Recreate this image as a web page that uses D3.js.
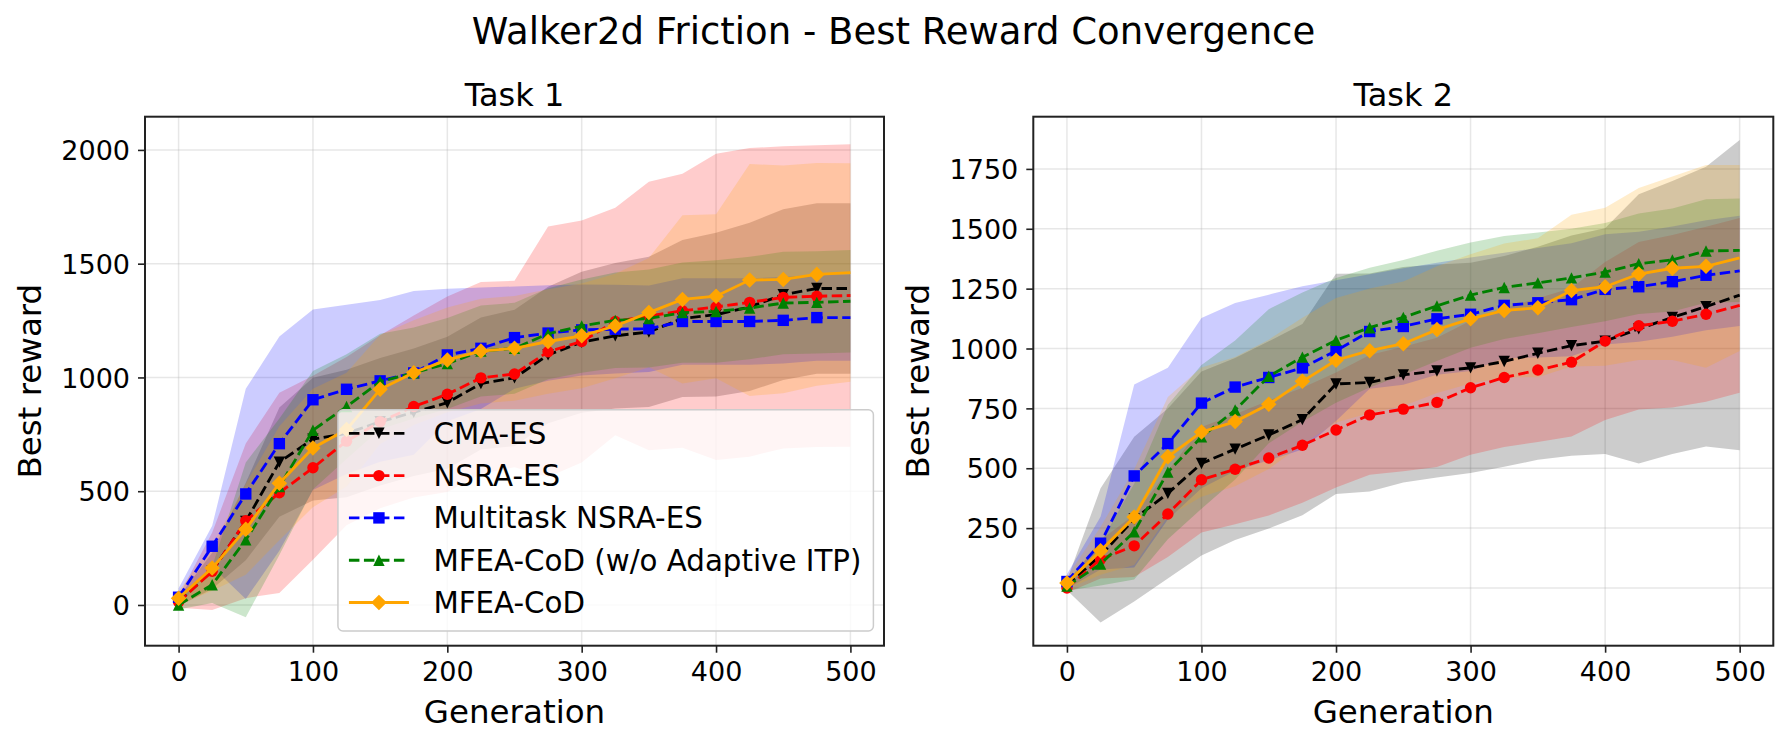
<!DOCTYPE html>
<html>
<head>
<meta charset="utf-8">
<script src="https://cdn.jsdelivr.net/npm/d3@7"></script>
<style>
  body { margin: 0; background: #fff; }
  svg { display: block; font-family: "DejaVu Sans", sans-serif; }
</style>
</head>
<body>
<div id="chart"></div>
<script>
// Generations where values were read (markers sit on all but the last)
const generations = [0, 25, 50, 75, 100, 125, 150, 175, 200, 225, 250, 275, 300, 325, 350, 375, 400, 425, 450, 475, 500];
const seriesNames = ["CMA-ES", "NSRA-ES", "Multitask NSRA-ES", "MFEA-CoD (w/o Adaptive ITP)", "MFEA-CoD"];
const seriesColors = ["black", "red", "blue", "green", "orange"];
const seriesMarkers = ["v", "o", "s", "^", "D"];
const seriesDashed = [true, true, true, true, false];

const xTicks = [0, 100, 200, 300, 400, 500];
const task1YTicks = [0, 500, 1000, 1500, 2000];
const task2YTicks = [0, 250, 500, 750, 1000, 1250, 1500, 1750];

// Task 1: mean best reward and std (band = mean +/- std)
const task1CmaMean  = [15, 150, 367, 628, 729, 754, 805, 847, 889, 973, 998, 1099, 1155, 1183, 1200, 1259, 1276, 1310, 1364, 1391, 1391];
const task1CmaStd   = [20, 80, 170, 240, 270, 280, 280, 280, 290, 290, 300, 300, 310, 320, 330, 345, 360, 370, 375, 375, 375];
const task1NsraMean = [13, 148, 370, 493, 603, 720, 805, 872, 926, 998, 1015, 1113, 1158, 1246, 1270, 1293, 1310, 1330, 1352, 1357, 1360];
const task1NsraStd  = [25, 170, 340, 440, 404, 370, 380, 400, 430, 422, 410, 550, 532, 500, 590, 602, 673, 678, 664, 663, 665];
const task1MtMean   = [34, 258, 488, 709, 902, 948, 985, 1020, 1099, 1128, 1175, 1195, 1209, 1212, 1214, 1246, 1246, 1246, 1251, 1263, 1263];
const task1MtStd    = [40, 90, 462, 471, 397, 372, 355, 360, 291, 267, 225, 210, 200, 195, 190, 190, 190, 190, 190, 190, 190];
const task1WoMean   = [0, 89, 286, 520, 768, 872, 982, 1020, 1061, 1116, 1128, 1192, 1226, 1251, 1259, 1285, 1290, 1305, 1327, 1330, 1335];
const task1WoStd    = [20, 80, 340, 300, 260, 230, 210, 200, 200, 200, 200, 200, 205, 210, 215, 220, 225, 225, 225, 225, 225];
const task1CodMean  = [30, 162, 333, 535, 690, 771, 948, 1021, 1077, 1116, 1128, 1158, 1183, 1226, 1285, 1343, 1357, 1428, 1431, 1453, 1461];
const task1CodStd   = [30, 100, 200, 250, 260, 250, 240, 230, 230, 230, 230, 230, 230, 230, 240, 370, 360, 510, 500, 490, 480];

// Task 2
const task2CmaMean  = [11, 136, 288, 395, 520, 580, 639, 703, 852, 858, 890, 906, 919, 946, 980, 1012, 1031, 1082, 1130, 1175, 1223];
const task2CmaStd   = [20, 280, 344, 355, 384, 380, 391, 399, 460, 455, 450, 445, 439, 440, 445, 460, 471, 562, 570, 584, 648];
const task2NsraMean = [0, 120, 176, 309, 452, 496, 543, 596, 660, 723, 747, 775, 836, 879, 910, 943, 1031, 1095, 1114, 1143, 1180];
const task2NsraStd  = [20, 80, 130, 180, 220, 230, 240, 240, 240, 250, 260, 270, 280, 290, 300, 310, 330, 350, 360, 365, 365];
const task2MtMean   = [27, 187, 468, 603, 772, 839, 879, 919, 991, 1071, 1092, 1124, 1143, 1180, 1191, 1204, 1247, 1258, 1279, 1306, 1324];
const task2MtStd    = [30, 110, 382, 317, 355, 351, 346, 341, 294, 239, 243, 234, 237, 220, 229, 236, 230, 230, 230, 230, 230];
const task2WoMean   = [8, 100, 235, 484, 631, 743, 884, 964, 1034, 1087, 1130, 1178, 1223, 1255, 1274, 1295, 1319, 1354, 1370, 1407, 1410];
const task2WoStd    = [20, 90, 200, 280, 300, 290, 280, 270, 260, 250, 240, 230, 220, 215, 210, 205, 205, 210, 215, 216, 216];
const task2CodMean  = [21, 155, 296, 548, 651, 695, 767, 863, 951, 991, 1020, 1079, 1124, 1159, 1170, 1242, 1258, 1311, 1335, 1343, 1378];
const task2CodStd   = [25, 100, 200, 250, 270, 270, 270, 265, 260, 260, 260, 265, 270, 280, 290, 317, 330, 359, 383, 423, 388];

// Figure layout (pixels)
var figWidth = 1787;
var figHeight = 745;
var plotTop = 116.7;
var plotBottom = 645.7;
var markerSize = 11.4;
var lineWidth = 2.85;

var panels = [
  { title: "Task 1", left: 145, right: 884, yDomain: [-179, 2146], yTicks: task1YTicks,
    means: [task1CmaMean, task1NsraMean, task1MtMean, task1WoMean, task1CodMean],
    stds: [task1CmaStd, task1NsraStd, task1MtStd, task1WoStd, task1CodStd], legend: true },
  { title: "Task 2", left: 1033.3, right: 1773.3, yDomain: [-241, 1968], yTicks: task2YTicks,
    means: [task2CmaMean, task2NsraMean, task2MtMean, task2WoMean, task2CodMean],
    stds: [task2CmaStd, task2NsraStd, task2MtStd, task2WoStd, task2CodStd], legend: false }
];

var svg = d3.select("#chart").append("svg")
  .attr("width", figWidth)
  .attr("height", figHeight);

svg.append("text")
  .attr("x", figWidth / 2)
  .attr("y", 44)
  .attr("text-anchor", "middle")
  .style("font-size", "37px")
  .text("Walker2d Friction - Best Reward Convergence");

function markerPath(type, s) {
  var h = s / 2;
  if (type == "v") return "M" + (-h) + "," + (-h) + "L" + h + "," + (-h) + "L0," + h + "Z";
  if (type == "^") return "M0," + (-h) + "L" + h + "," + h + "L" + (-h) + "," + h + "Z";
  if (type == "s") return "M" + (-h) + "," + (-h) + "H" + h + "V" + h + "H" + (-h) + "Z";
  if (type == "D") {
    var d = s * 0.68;
    return "M0," + (-d) + "L" + d + ",0L0," + d + "L" + (-d) + ",0Z";
  }
  return d3.symbol(d3.symbolCircle, Math.PI * h * h)();
}

function drawPanel(p) {
  var x = d3.scaleLinear().domain([-25, 525]).range([p.left, p.right]);
  var y = d3.scaleLinear().domain(p.yDomain).range([plotBottom, plotTop]);
  var g = svg.append("g");

  // grid
  g.append("g").selectAll("line").data(xTicks).enter().append("line")
    .attr("x1", d => x(d)).attr("x2", d => x(d))
    .attr("y1", plotTop).attr("y2", plotBottom)
    .attr("stroke", "#b0b0b0").attr("stroke-opacity", 0.3).attr("stroke-width", 1.5);
  g.append("g").selectAll("line").data(p.yTicks).enter().append("line")
    .attr("y1", d => y(d)).attr("y2", d => y(d))
    .attr("x1", p.left).attr("x2", p.right)
    .attr("stroke", "#b0b0b0").attr("stroke-opacity", 0.3).attr("stroke-width", 1.5);

  // std bands
  p.means.forEach(function(mean, s) {
    var std = p.stds[s];
    var area = d3.area()
      .x((d, i) => x(generations[i]))
      .y0((d, i) => y(mean[i] - std[i]))
      .y1((d, i) => y(mean[i] + std[i]));
    g.append("path").datum(mean)
      .attr("d", area)
      .attr("fill", seriesColors[s])
      .attr("fill-opacity", 0.2);
  });

  // mean lines with markers
  p.means.forEach(function(mean, s) {
    var line = d3.line().x((d, i) => x(generations[i])).y(d => y(d));
    g.append("path").datum(mean)
      .attr("d", line)
      .attr("fill", "none")
      .attr("stroke", seriesColors[s])
      .attr("stroke-width", lineWidth)
      .attr("stroke-dasharray", seriesDashed[s] ? "10.5,4.5" : null);
    g.append("g").selectAll("path")
      .data(mean.filter((d, i) => generations[i] < 500))
      .enter().append("path")
      .attr("transform", (d, i) => "translate(" + x(generations[i]) + "," + y(d) + ")")
      .attr("d", markerPath(seriesMarkers[s], markerSize))
      .attr("fill", seriesColors[s]);
  });

  // axes
  var xAxis = d3.axisBottom(x).tickValues(xTicks).tickFormat(d3.format("d")).tickSize(7).tickPadding(7);
  var yAxis = d3.axisLeft(y).tickValues(p.yTicks).tickFormat(d3.format("d")).tickSize(7).tickPadding(8);
  var gx = g.append("g").attr("transform", "translate(0," + plotBottom + ")").call(xAxis);
  var gy = g.append("g").attr("transform", "translate(" + p.left + ",0)").call(yAxis);
  [gx, gy].forEach(function(a) {
    a.select(".domain").remove();
    a.selectAll(".tick line").attr("stroke", "#222").attr("stroke-width", 1.6);
    a.selectAll(".tick text").attr("fill", "#000").style("font-size", "27px")
      .style("font-family", "DejaVu Sans, sans-serif");
  });
  gx.selectAll(".tick text").attr("dy", null).attr("y", 35.8);
  gy.selectAll(".tick text").attr("dy", "0.36em");

  g.append("rect")
    .attr("x", p.left).attr("y", plotTop)
    .attr("width", p.right - p.left).attr("height", plotBottom - plotTop)
    .attr("fill", "none").attr("stroke", "#222").attr("stroke-width", 2);

  // titles and labels
  var cx = (p.left + p.right) / 2;
  g.append("text").attr("x", cx).attr("y", 105.5).attr("text-anchor", "middle")
    .style("font-size", "32px").text(p.title);
  g.append("text").attr("x", cx).attr("y", 723).attr("text-anchor", "middle")
    .style("font-size", "32.5px").text("Generation");
  g.append("text")
    .attr("transform", "translate(" + (p.left - 104) + "," + ((plotTop + plotBottom) / 2) + ") rotate(-90)")
    .attr("text-anchor", "middle")
    .style("font-size", "32.5px").text("Best reward");

  if (p.legend) drawLegend(g, p);
}

function drawLegend(g, p) {
  var fontSize = 29.3;
  var rowGap = 42.3;
  var boxRight = p.right - 10.6;
  var boxBottom = plotBottom - 14.7;
  var lastBaseline = boxBottom - 18;
  var leg = g.append("g");
  var frame = leg.append("rect");
  var texts = [];
  seriesNames.forEach(function(name, s) {
    var base = lastBaseline - (seriesNames.length - 1 - s) * rowGap;
    texts.push(leg.append("text").attr("y", base).style("font-size", fontSize + "px").text(name));
  });
  var maxW = d3.max(texts, t => t.node().getComputedTextLength());
  var boxLeft = boxRight - 12 - maxW - 95.5;
  var boxTop = lastBaseline - (seriesNames.length - 1) * rowGap - 34;
  frame.attr("x", boxLeft).attr("y", boxTop)
    .attr("width", boxRight - boxLeft).attr("height", boxBottom - boxTop)
    .attr("rx", 5).attr("fill", "#fff").attr("fill-opacity", 0.8)
    .attr("stroke", "#cccccc").attr("stroke-width", 1.5);
  texts.forEach(function(t, s) {
    var base = +t.attr("y");
    var cy = base - 10.5;
    t.attr("x", boxLeft + 95.5);
    leg.append("line")
      .attr("x1", boxLeft + 11).attr("x2", boxLeft + 71)
      .attr("y1", cy).attr("y2", cy)
      .attr("stroke", seriesColors[s]).attr("stroke-width", lineWidth)
      .attr("stroke-dasharray", seriesDashed[s] ? "10.5,4.5" : null);
    leg.append("path")
      .attr("transform", "translate(" + (boxLeft + 41) + "," + cy + ")")
      .attr("d", markerPath(seriesMarkers[s], markerSize))
      .attr("fill", seriesColors[s]);
  });
}

panels.forEach(drawPanel);
</script>
</body>
</html>
